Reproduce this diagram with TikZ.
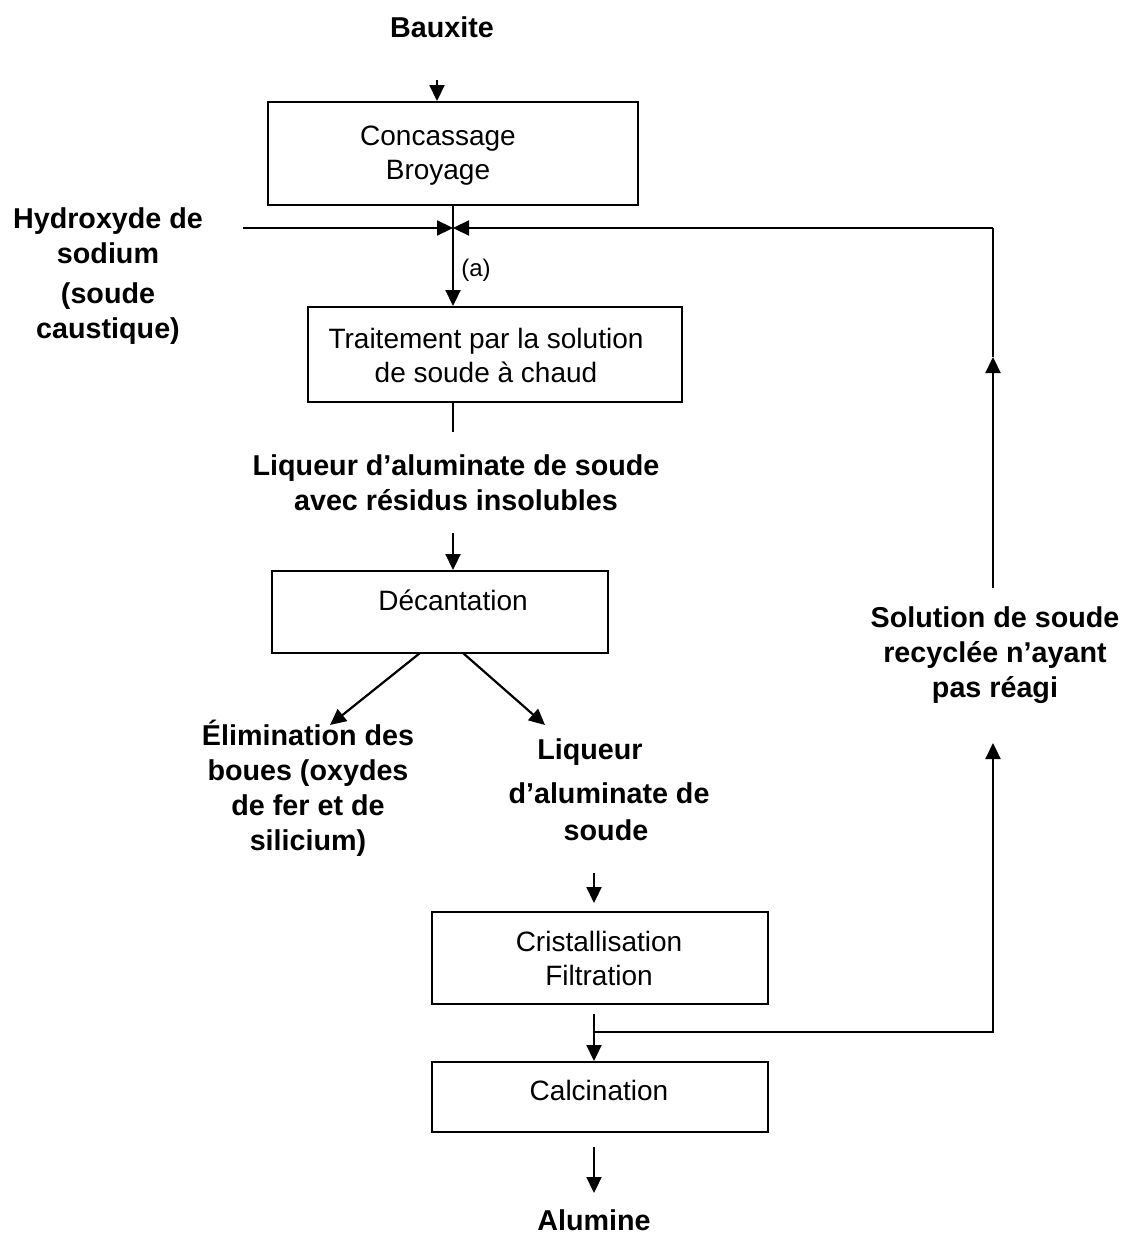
\documentclass[tikz,border=0pt]{standalone}
\usepackage{fontspec}
\setmainfont{Liberation Sans}
\usetikzlibrary{arrows.meta}
\begin{document}
\begin{tikzpicture}[x=1pt,y=-1pt,
 box/.style={draw,line width=2pt,inner sep=0pt},
 lbl/.style={font=\fontsize{28}{34}\selectfont,align=center,inner sep=0pt},
 blbl/.style={font=\fontsize{28.7}{35}\selectfont\bfseries,align=center,inner sep=0pt},
 ln/.style={line width=2.2pt},
 arr/.style={line width=2.2pt,-{Triangle[length=16pt,width=15pt]}}]
\useasboundingbox (0,0) rectangle (1126,1234);
% boxes
\node[box,minimum width=370pt,minimum height=103pt] (b1) at (453,153.5) {};
\node[box,minimum width=374pt,minimum height=95pt] (b2) at (495,354.5) {};
\node[box,minimum width=336pt,minimum height=82pt] (b3) at (440,612) {};
\node[box,minimum width=336pt,minimum height=92pt] (b4) at (600,958) {};
\node[box,minimum width=336pt,minimum height=70pt] (b5) at (600,1097) {};
% box texts
\node[lbl] (t1) at (438,156) {Concassage\\Broyage};
\node[lbl] (t2) at (486,355) {Traitement par la solution\\de soude à chaud};
\node[lbl] (t3) at (453,600) {Décantation};
\node[lbl] (t4) at (599,958) {Cristallisation\\Filtration};
\node[lbl] (t5) at (599,1090) {Calcination};
% bold labels
\node[blbl] (bx) at (442,27) {Bauxite};
\node[blbl] (hy) at (108,236) {Hydroxyde de\\sodium};
\node[blbl] (sc) at (108,314) {(soude\\caustique)};
\node[blbl] (lq) at (456,483) {Liqueur d’aluminate de soude\\avec résidus insolubles};
\node[blbl] (el) at (308,788) {Élimination des\\boues (oxydes\\de fer et de\\silicium)};
\node[blbl] (la1) at (590,752) {Liqueur};
\node[blbl] (la2) at (609,793) {d’aluminate de};
\node[blbl] (la3) at (606,830) {soude};
\node[blbl] (so) at (995,655) {Solution de soude\\recyclée n’ayant\\pas réagi};
\node[blbl] (al) at (594,1220) {Alumine};
\node[font=\fontsize{24}{28}\selectfont,inner sep=0pt] (a) at (476,270) {(a)};
% coordinates
\coordinate (j) at (453,228);
\coordinate (hl) at (243,228);
\coordinate (rc) at (993,228);
\coordinate (rm1) at (993,357);
\coordinate (rb1) at (993,588);
\coordinate (rt2) at (993,743);
\coordinate (rm2) at (993,778);
\coordinate (rb) at (993,1032);
\coordinate (jb) at (594,1032);
% connectors
\draw[arr] (437,80) -- (437,101);
\draw[ln] (b1.south -| j) -- (j);
\draw[arr] (j) -- (b2.north -| j);
\draw[arr] (hl) -- (j);
\draw[arr] (rc) -- (j);
\draw[ln] (rc) -- (rm1);
\draw[arr] (rb1) -- (rm1);
\draw[ln] (b2.south -| j) -- (453,432);
\draw[arr] (453,533) -- (b3.north -| 453,0);
\draw[arr] (420,653) -- (330,725);
\draw[arr] (463,653) -- (545,725);
\draw[arr] (594,873) -- (594,903);
\draw[ln] (594,1014) -- (jb);
\draw[arr] (jb) -- (b5.north -| jb);
\draw[ln] (jb) -- (rb) -- (rm2);
\draw[arr] (rm2) -- (rt2);
\draw[arr] (594,1147) -- (594,1193);
\end{tikzpicture}
\end{document}
